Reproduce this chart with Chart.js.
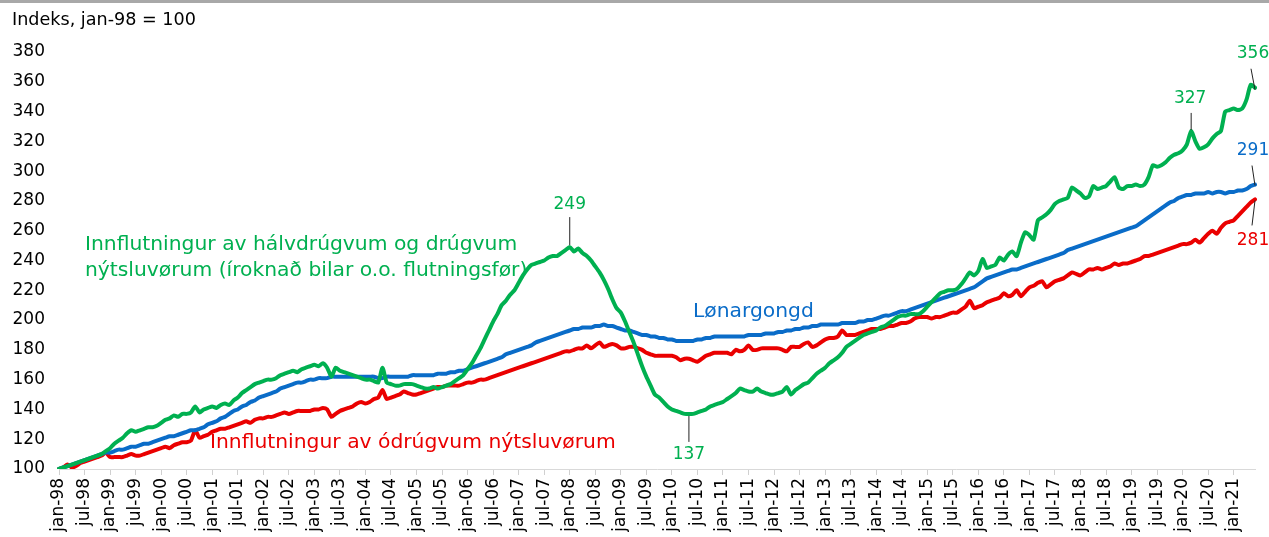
<!DOCTYPE html>
<html><head><meta charset="utf-8">
<script src="https://cdn.jsdelivr.net/npm/chart.js@4/dist/chart.umd.min.js"></script>
<style>html,body{margin:0;padding:0;background:#fff;overflow:hidden}</style>
</head><body>
<canvas id="c" width="1269" height="537"></canvas>
<script>
// ---- Data ----
const monthNames = ['jan','feb','mar','apr','mai','jun','jul','aug','sep','okt','nov','des'];
const categories = [];
for (let y = 1998; y <= 2021; y++) for (let m = 0; m < 12; m++) {
  if (categories.length < 282) categories.push(monthNames[m] + '-' + String(y % 100).padStart(2, '0'));
}
const yTicks = [100,120,140,160,180,200,220,240,260,280,300,320,340,360,380];

const greenSeries = [
 100,101,102,103,104,105,106,107,108,109,110,112,
 114,117,119,121,124,126,125,126,127,128,128,129,
 131,133,134,136,135,137,137,138,142,138,140,141,
 142,141,143,144,143,146,148,151,153,155,157,158,
 159,160,160,161,163,164,165,166,165,167,168,169,
 170,169,171,168,162,168,166,165,164,163,162,161,
 160,160,159,158,168,158,157,156,156,157,157,157,
 156,155,154,154,155,154,155,156,157,159,161,163,
 167,171,176,181,187,193,199,204,210,213,217,220,
 225,230,234,237,238,239,240,242,243,243,245,247,
 249,246,248,245,243,240,236,232,227,221,214,208,
 205,199,192,185,177,169,162,156,150,148,145,142,
 140,139,138,137,137,137,138,139,140,142,143,144,
 145,147,149,151,154,153,152,152,154,152,151,150,
 150,151,152,155,150,153,155,157,158,161,164,166,
 168,171,173,175,178,182,184,186,188,190,191,192,
 193,195,196,198,200,202,203,203,204,204,204,206,
 209,212,215,218,219,220,220,221,224,228,232,230,
 233,241,235,236,237,242,240,244,246,243,252,259,
 257,254,267,269,271,274,278,280,281,282,289,287,
 285,282,283,290,288,289,290,293,296,289,288,290,
 290,291,290,291,296,304,303,304,306,309,311,312,
 314,318,327,320,315,316,318,322,325,327,340,341,
 342,341,342,348,358,356
];
const blueSeries = [
 100,101,102,103,104,105,106,107,108,109,110,111,
 111,112,113,113,114,115,115,116,117,117,118,119,
 120,121,122,122,123,124,125,126,126,127,128,130,
 131,132,134,135,137,139,140,142,143,145,146,148,
 149,150,151,152,154,155,156,157,158,158,159,160,
 160,161,161,161,162,162,162,162,162,162,162,162,
 162,162,162,161,161,162,162,162,162,162,162,163,
 163,163,163,163,163,164,164,164,165,165,166,166,
 167,168,169,170,171,172,173,174,175,177,178,179,
 180,181,182,183,185,186,187,188,189,190,191,192,
 193,194,194,195,195,195,196,196,197,196,196,195,
 194,193,193,192,191,190,190,189,189,188,188,187,
 187,186,186,186,186,186,187,187,188,188,189,189,
 189,189,189,189,189,189,190,190,190,190,191,191,
 191,192,192,193,193,194,194,195,195,196,196,197,
 197,197,197,197,198,198,198,198,199,199,200,200,
 201,202,203,203,204,205,206,206,207,208,209,210,
 211,212,213,214,215,216,217,218,219,220,221,222,
 224,226,228,229,230,231,232,233,234,234,235,236,
 237,238,239,240,241,242,243,244,245,247,248,249,
 250,251,252,253,254,255,256,257,258,259,260,261,
 262,263,265,267,269,271,273,275,277,279,280,282,
 283,284,284,285,285,285,286,285,286,286,285,286,
 286,287,287,288,290,291
];
const redSeries = [
 100,101,103,101,102,104,105,106,107,108,109,111,
 108,108,108,108,109,110,109,109,110,111,112,113,
 114,115,114,116,117,118,118,119,126,121,122,123,
 125,126,127,127,128,129,130,131,132,131,133,134,
 134,135,135,136,137,138,137,138,139,139,139,139,
 140,140,141,140,135,137,139,140,141,142,144,145,
 144,145,147,148,153,147,148,149,150,152,151,150,
 150,151,152,153,154,155,155,156,156,156,156,157,
 158,158,159,160,160,161,162,163,164,165,166,167,
 168,169,170,171,172,173,174,175,176,177,178,179,
 179,180,181,181,183,181,183,185,182,183,184,183,
 181,181,182,182,181,180,178,177,176,176,176,176,
 176,175,173,174,174,173,172,174,176,177,178,178,
 178,178,177,180,179,180,183,180,180,181,181,181,
 181,181,180,179,182,182,182,184,185,182,183,185,
 187,188,188,189,193,190,190,190,191,192,193,194,
 194,194,195,196,196,197,198,198,199,201,202,202,
 202,201,202,202,203,204,205,205,207,209,213,208,
 209,210,212,213,214,215,218,216,217,220,216,219,
 222,223,225,226,222,224,226,227,228,230,232,231,
 230,232,234,234,235,234,235,236,238,237,238,238,
 239,240,241,243,243,244,245,246,247,248,249,250,
 251,251,252,254,252,255,258,260,258,262,265,266,
 267,270,273,276,279,281
];

const seriesNames = {
  green: ['Innflutningur av hálvdrúgvum og drúgvum', 'nýtsluvørum (íroknað bilar o.o. flutningsfør)'],
  blue: ['Lønargongd'],
  red: ['Innflutningur av ódrúgvum nýtsluvørum']
};
const titleText = 'Indeks, jan-98 = 100';

const GREEN = '#00b050', BLUE = '#0a6cc8', RED = '#ea0000';
const FONT = 'DejaVu Sans';

// value call-outs: dataset, index, text
const callouts = [
  { s: 'green', i: 120, text: '249', lead: [0, -2, 0, -30], lab: [0, -43] },
  { s: 'green', i: 148, text: '137', lead: [0, 2, 0, 28], lab: [0, 41] },
  { s: 'green', i: 266, text: '327', lead: [0, -1, 0, -18], lab: [-1, -32] },
  { s: 'green', i: 281, text: '356', lead: [0, 2, -4, -19], lab: [-2, -34] },
  { s: 'blue',  i: 281, text: '291', lead: [0, 1, -3, -19], lab: [-2, -34] },
  { s: 'red',   i: 281, text: '281', lead: [0, 1, -3, 26], lab: [-2, 41] }
];
const seriesData = { green: greenSeries, blue: blueSeries, red: redSeries };
const seriesColor = { green: GREEN, blue: BLUE, red: RED };

const annot = {
  id: 'annot',
  beforeDraw(chart) {
    const c = chart.ctx;
    c.save();
    c.fillStyle = '#ffffff';
    c.fillRect(0, 0, chart.width, chart.height);
    c.fillStyle = '#a8a8a8';
    c.fillRect(0, 0, chart.width, 3);
    c.fillStyle = '#000';
    c.font = '17.6px "' + FONT + '"';
    c.textBaseline = 'middle';
    c.textAlign = 'left';
    c.fillText(titleText, 12, 20);
    c.restore();
  },
  afterDatasetsDraw(chart) {
    const c = chart.ctx, xs = chart.scales.x, ys = chart.scales.y;
    c.save();
    c.textBaseline = 'middle';
    c.textAlign = 'left';
    c.font = '20.3px "' + FONT + '"';
    c.fillStyle = GREEN;
    c.fillText(seriesNames.green[0], 85, 245);
    c.fillText(seriesNames.green[1], 85, 271);
    c.fillStyle = BLUE;
    c.fillText(seriesNames.blue[0], 693, 312);
    c.fillStyle = RED;
    c.fillText(seriesNames.red[0], 210, 443);

    c.font = '17px "' + FONT + '"';
    c.textAlign = 'center';
    c.lineWidth = 1;
    c.strokeStyle = '#222';
    callouts.forEach(a => {
      const px = xs.getPixelForValue(a.i);
      const py = ys.getPixelForValue(seriesData[a.s][a.i]);
      c.beginPath();
      c.moveTo(px + a.lead[0], py + a.lead[1]);
      c.lineTo(px + a.lead[2], py + a.lead[3]);
      c.stroke();
      c.fillStyle = seriesColor[a.s];
      c.fillText(a.text, px + a.lab[0], py + a.lab[1]);
    });
    c.restore();
  }
};

new Chart(document.getElementById('c').getContext('2d'), {
  type: 'line',
  data: {
    labels: categories,
    datasets: [
      { label: seriesNames.green.join(' '), data: greenSeries, borderColor: GREEN },
      { label: seriesNames.blue[0], data: blueSeries, borderColor: BLUE },
      { label: seriesNames.red[0], data: redSeries, borderColor: RED }
    ]
  },
  options: {
    responsive: false,
    animation: false,
    devicePixelRatio: 1,
    layout: { padding: { top: 52, right: 14, left: 0, bottom: 0 } },
    plugins: { legend: { display: false }, tooltip: { enabled: false }, title: { display: false } },
    elements: {
      point: { radius: 0 },
      line: { borderWidth: 4, tension: 0.2, borderCapStyle: 'round', borderJoinStyle: 'round', fill: false }
    },
    scales: {
      x: {
        type: 'category',
        offset: false,
        grid: {
          drawOnChartArea: false, drawTicks: true, tickLength: 6, lineWidth: 1,
          color: 'rgba(0,0,0,0)',
          tickColor: (ctx) => (ctx.index % 6 === 0 ? '#d0d0d0' : 'rgba(0,0,0,0)')
        },
        border: { display: true, color: '#d9d9d9', width: 1 },
        ticks: {
          autoSkip: false, maxRotation: 90, minRotation: 90, padding: 3,
          color: '#000', font: { family: FONT, size: 17 },
          callback: (v, i) => (i % 6 === 0 ? categories[i] : '')
        },
        afterFit: (s) => { s.height = 68; s.paddingLeft = 0; s.paddingRight = 0; }
      },
      y: {
        min: yTicks[0], max: yTicks[yTicks.length - 1],
        afterBuildTicks: (s) => { s.ticks = yTicks.map(v => ({ value: v })); },
        grid: { display: false, drawTicks: false },
        border: { display: false },
        ticks: { padding: 14, color: '#000', font: { family: FONT, size: 17 } },
        afterFit: (s) => { s.width = 59; }
      }
    }
  },
  plugins: [annot]
});
</script>
</body></html>
